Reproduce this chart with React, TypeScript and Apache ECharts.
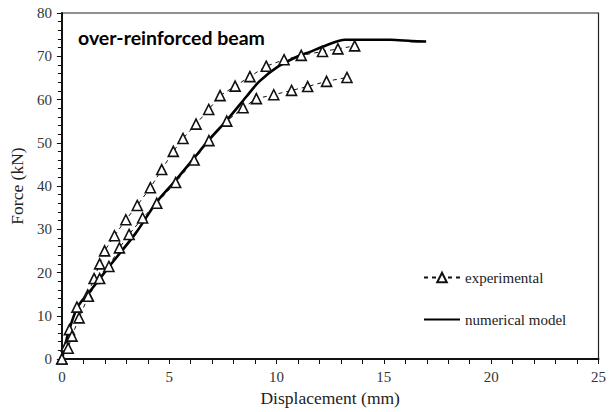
import React, { useEffect, useRef } from "react";
import * as echarts from "echarts";

// Experimental curve 1 (stiffer) [displacement mm, force kN]
const expUpper: number[][] = [
  [0, 0], [0.2, 3], [0.35, 6.8], [0.7, 12], [1.2, 14.8], [1.5, 18.6], [1.76, 22],
  [1.99, 25], [2.45, 28.5], [2.98, 32.2], [3.51, 35.5], [4.12, 39.6], [4.65, 43.8],
  [5.19, 48], [5.64, 51], [6.25, 54.3], [6.84, 57.7], [7.37, 60.9], [8.07, 63.1],
  [8.76, 65.3], [9.52, 67.7], [10.35, 69.2], [11.15, 70.2], [12.14, 71.1],
  [12.86, 71.7], [13.64, 72.4],
];

// Experimental curve 2 (softer)
const expLower: number[][] = [
  [0, 0], [0.29, 2.5], [0.47, 5.3], [0.8, 9.5], [1.23, 14.5], [1.76, 18.6],
  [2.19, 21.4], [2.68, 25.7], [3.13, 28.8], [3.76, 32.6], [4.42, 36], [5.3, 40.8],
  [6.16, 46], [6.85, 50.5], [7.68, 55], [8.44, 58.1], [9.06, 60.2], [9.87, 61.1],
  [10.7, 62.1], [11.45, 63], [12.33, 64.2], [13.28, 65.1],
];

// Numerical model
const numerical: number[][] = [
  [0, 0], [0.32, 6.4], [0.73, 12], [1.3, 15.6], [2.19, 21.3], [3.44, 29.1],
  [4.4, 36.2], [5.26, 41.1], [6.1, 46.1], [6.86, 50.7], [7.7, 55.3], [8.6, 60.7],
  [9.2, 64.2], [10.1, 67.7], [11.0, 70.0], [11.5, 70.9], [12.3, 72.5], [13.2, 73.8],
  [15.3, 73.8], [16.3, 73.5], [16.97, 73.4],
];

const xTicks = { min: 0, max: 25, interval: 5 };
const yTicks = { min: 0, max: 80, interval: 10 };

const titleText = "over-reinforced beam";
const xName = "Displacement (mm)";
const yName = "Force (kN)";
const legendNames = ["experimental", "numerical model"];

export default function App() {
  const ref = useRef<HTMLDivElement>(null);
  useEffect(() => {
    if (!ref.current) return;
    const chart = echarts.init(ref.current, undefined, { renderer: "svg" });
    const serif = "Liberation Serif";
    const expSeries = (data: number[][]) => ({
      name: legendNames[0],
      type: "line",
      data,
      symbol: "triangle",
      symbolSize: 10,
      showAllSymbol: true,
      itemStyle: { color: "#fff", borderColor: "#111", borderWidth: 1.6 },
      lineStyle: { color: "#111", width: 1, type: [4, 4] },
      z: 3,
    });
    chart.setOption({
      animation: false,
      backgroundColor: "#fff",
      grid: {
        left: 58, top: 13, right: 3, bottom: 53,
        show: true, borderColor: "#222", borderWidth: 1.2,
      },
      xAxis: {
        type: "value",
        ...xTicks,
        name: xName,
        nameLocation: "middle",
        nameGap: 30,
        nameTextStyle: { fontFamily: serif, fontSize: 17.5, color: "#222" },
        axisLine: { show: true, onZero: false, lineStyle: { color: "#111", width: 2 } },
        axisTick: { show: true, length: 5, lineStyle: { color: "#111" } },
        minorTick: { show: true, splitNumber: 5, length: 5, lineStyle: { color: "#111" } },
        splitLine: { show: false },
        axisLabel: { fontFamily: serif, fontSize: 15, color: "#333", margin: 10 },
      },
      yAxis: {
        type: "value",
        ...yTicks,
        name: yName,
        nameLocation: "middle",
        nameGap: 30,
        nameTextStyle: { fontFamily: serif, fontSize: 17.5, color: "#222" },
        axisLine: { show: true, onZero: false, lineStyle: { color: "#111", width: 2 } },
        axisTick: { show: true, length: 5, lineStyle: { color: "#111" } },
        minorTick: { show: true, splitNumber: 5, length: 4, lineStyle: { color: "#111" } },
        splitLine: { show: false },
        axisLabel: { fontFamily: serif, fontSize: 15, color: "#333", margin: 10 },
      },
      legend: {
        data: [
          { name: legendNames[0] },
          { name: legendNames[1], itemStyle: { opacity: 0 } },
        ],
        orient: "vertical",
        left: 418,
        top: 265,
        itemWidth: 36,
        itemHeight: 12,
        itemGap: 27,
        textStyle: { fontFamily: serif, fontSize: 15, color: "#222" },
      },
      graphic: [
        {
          type: "text",
          left: 78,
          top: 27,
          style: {
            text: titleText,
            fontFamily: "Lato",
            fontWeight: "bold",
            fontSize: 19.5,
            fill: "#000",
          },
        },
      ],
      series: [
        expSeries(expUpper),
        expSeries(expLower),
        {
          name: legendNames[1],
          type: "line",
          data: numerical,
          symbol: "none",
          lineStyle: { color: "#000", width: 2.6 },
          itemStyle: { color: "#000" },
          smooth: 0.3,
          z: 2,
        },
      ],
    });
    return () => chart.dispose();
  }, []);
  return (
    <div
      ref={ref}
      style={{ position: "fixed", left: 0, top: 0, width: 609, height: 412 }}
    />
  );
}
